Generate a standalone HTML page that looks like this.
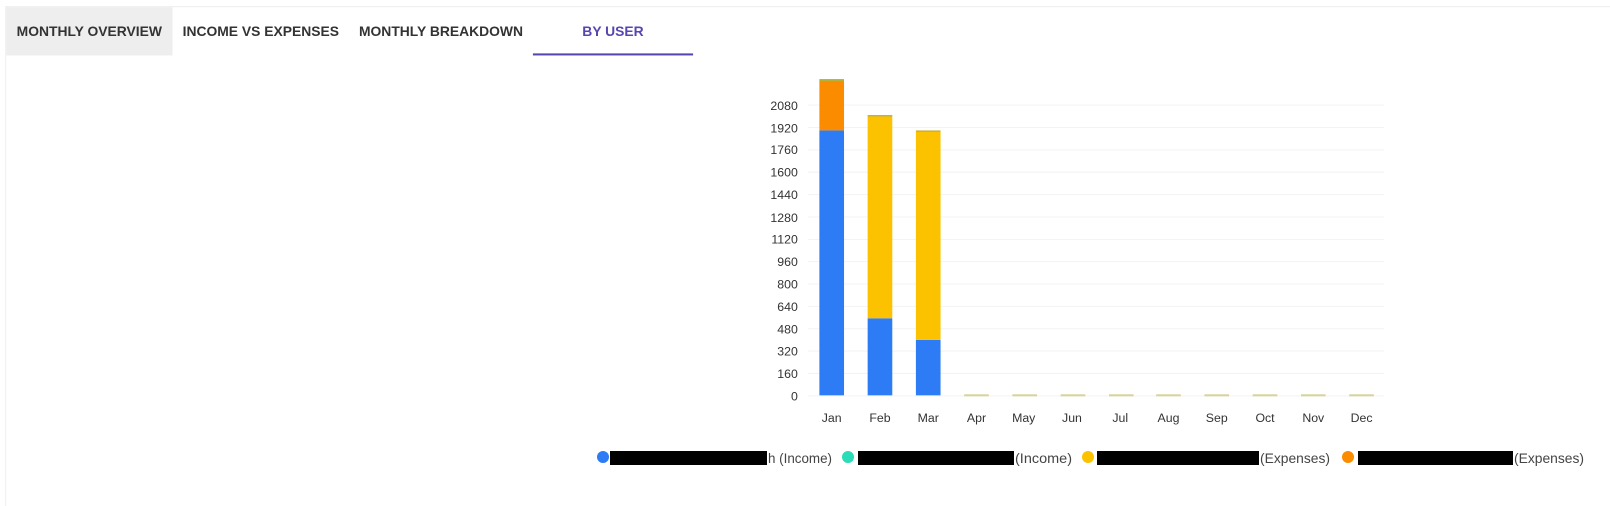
<!DOCTYPE html>
<html><head><meta charset="utf-8"><style>
html,body{margin:0;padding:0;background:#fff;width:1610px;height:492px;overflow:hidden;font-family:"Liberation Sans",sans-serif}
#wrap{position:absolute;left:0;top:0;width:1568px;height:479px;transform:scale(1.0268);transform-origin:0 0}
.card{position:absolute;left:5px;top:6px;width:1563px;height:486px;border-top:1px solid #eee;border-left:1px solid #f0f0f0}
.tab{position:absolute;top:7px;height:47px;line-height:48px;font-size:13.5px;font-weight:bold;color:#333;text-align:center}
</style></head><body>
<div id="wrap">
<div class="card"></div>
<div class="tab" style="left:6px;width:162px;background:#eeeeee">MONTHLY OVERVIEW</div>
<div class="tab" style="left:168px;width:172px">INCOME VS EXPENSES</div>
<div class="tab" style="left:340px;width:179px">MONTHLY BREAKDOWN</div>
<div class="tab" style="left:519px;width:156px;color:#5546b0">BY USER</div>
<div style="position:absolute;left:519px;top:52px;width:156px;height:2px;background:#5546b0"></div>
<svg width="1568" height="479" style="position:absolute;left:0;top:0" font-family="Liberation Sans, sans-serif">
<g stroke="#f3f3f3" stroke-width="1">
<line x1="787" x2="1348" y1="385.5" y2="385.5"/><line x1="787" x2="1348" y1="363.7" y2="363.7"/><line x1="787" x2="1348" y1="341.9" y2="341.9"/><line x1="787" x2="1348" y1="320.2" y2="320.2"/><line x1="787" x2="1348" y1="298.4" y2="298.4"/><line x1="787" x2="1348" y1="276.6" y2="276.6"/><line x1="787" x2="1348" y1="254.8" y2="254.8"/><line x1="787" x2="1348" y1="233.1" y2="233.1"/><line x1="787" x2="1348" y1="211.3" y2="211.3"/><line x1="787" x2="1348" y1="189.5" y2="189.5"/><line x1="787" x2="1348" y1="167.7" y2="167.7"/><line x1="787" x2="1348" y1="146" y2="146"/><line x1="787" x2="1348" y1="124.2" y2="124.2"/><line x1="787" x2="1348" y1="102.4" y2="102.4"/>
</g>
<g font-size="12" fill="#333" text-anchor="end">
<text x="777" y="390">0</text><text x="777" y="368">160</text><text x="777" y="346">320</text><text x="777" y="325">480</text><text x="777" y="303">640</text><text x="777" y="281">800</text><text x="777" y="259">960</text><text x="777" y="237">1120</text><text x="777" y="216">1280</text><text x="777" y="194">1440</text><text x="777" y="172">1600</text><text x="777" y="150">1760</text><text x="777" y="129">1920</text><text x="777" y="107">2080</text>
</g>
<rect x="798" y="127" width="24" height="258" fill="#2d7cf6"/>
<rect x="798" y="78" width="24" height="49" fill="#fb8c00"/>
<rect x="798" y="77" width="24" height="2" fill="#b5b03a"/>
<rect x="845" y="310" width="24" height="75" fill="#2d7cf6"/>
<rect x="845" y="113" width="24" height="197" fill="#fcc200"/>
<rect x="845" y="112" width="24" height="1.5" fill="#c8b040"/>
<rect x="892" y="331" width="24" height="54" fill="#2d7cf6"/>
<rect x="892" y="128" width="24" height="203" fill="#fcc200"/>
<rect x="892" y="127" width="24" height="1.5" fill="#c8b040"/>
<g fill="#d6d49a">
<rect x="939" y="384" width="24" height="2"/><rect x="986" y="384" width="24" height="2"/><rect x="1033" y="384" width="24" height="2"/><rect x="1080" y="384" width="24" height="2"/><rect x="1126" y="384" width="24" height="2"/><rect x="1173" y="384" width="24" height="2"/><rect x="1220" y="384" width="24" height="2"/><rect x="1267" y="384" width="24" height="2"/><rect x="1314" y="384" width="24" height="2"/>
</g>
<g font-size="12" fill="#333" text-anchor="middle">
<text x="810" y="411">Jan</text><text x="857" y="411">Feb</text><text x="904" y="411">Mar</text><text x="951" y="411">Apr</text><text x="997" y="411">May</text><text x="1044" y="411">Jun</text><text x="1091" y="411">Jul</text><text x="1138" y="411">Aug</text><text x="1185" y="411">Sep</text><text x="1232" y="411">Oct</text><text x="1279" y="411">Nov</text><text x="1326" y="411">Dec</text>
</g>
</svg>
</div>
<svg width="1610" height="492" style="position:absolute;left:0;top:0" font-family="Liberation Sans, sans-serif" font-size="14" fill="#444">
<circle cx="603" cy="457" r="6" fill="#2d7cf6"/>
<rect x="610" y="451" width="157" height="14" fill="#000"/>
<text x="768" y="463" textLength="64" lengthAdjust="spacingAndGlyphs">h (Income)</text>
<circle cx="848" cy="457" r="6" fill="#2adcb8"/>
<rect x="858" y="451" width="156" height="14" fill="#000"/>
<text x="1015" y="463" textLength="57" lengthAdjust="spacingAndGlyphs">(Income)</text>
<circle cx="1088" cy="457" r="6" fill="#fcc200"/>
<rect x="1097" y="451" width="162" height="14" fill="#000"/>
<text x="1260" y="463" textLength="70" lengthAdjust="spacingAndGlyphs">(Expenses)</text>
<circle cx="1348" cy="457" r="6" fill="#fb8c00"/>
<rect x="1358" y="451" width="155" height="14" fill="#000"/>
<text x="1514" y="463" textLength="70" lengthAdjust="spacingAndGlyphs">(Expenses)</text>
</svg>
</body></html>
